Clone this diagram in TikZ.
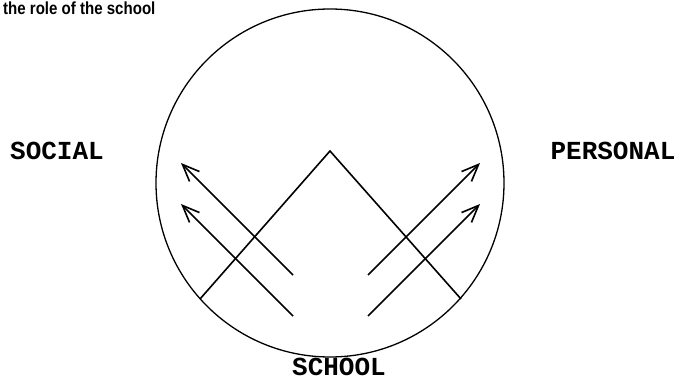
\documentclass[tikz,border=0pt]{standalone}
\usepackage{fontspec}
\usetikzlibrary{arrows.meta}
\newfontfamily\titlefont[FakeStretch=0.86]{Liberation Sans}
\newfontfamily\typefont{Liberation Mono}

\begin{document}
\begin{tikzpicture}[x=1pt, y=-1pt, >={Straight Barb[length=17pt,width=14pt]},
    thickline/.style={line width=1.6pt},
    sidelabel/.style={inner sep=0pt, anchor=base, font=\typefont\bfseries\fontsize{26}{26}\selectfont},
    title/.style={inner sep=0pt, anchor=base west, font=\titlefont\bfseries\fontsize{17.5}{18}\selectfont}]
    \useasboundingbox (0,0) rectangle (689,382);
    \node [title] (heading) at (3,15) {the role of the school};

    % the school
    \draw [line width=1.3pt] (330,183) circle (174);
    \coordinate (peak) at (330,151);
    \draw [thickline] (200,299) -- (peak) -- (461,299);

    % pull to each side
    \draw [thickline, ->] (293,275) -- (181,163);
    \draw [thickline, ->] (293,316) -- (181,204);
    \draw [thickline, ->] (368,275) -- (480,163);
    \draw [thickline, ->] (368,316) -- (480,204);

    \node [sidelabel] (social) at (57,160) {SOCIAL};
    \node [sidelabel] (personal) at (613,160) {PERSONAL};
    \node [sidelabel] (school) at (339,376) {SCHOOL};
\end{tikzpicture}
\end{document}
